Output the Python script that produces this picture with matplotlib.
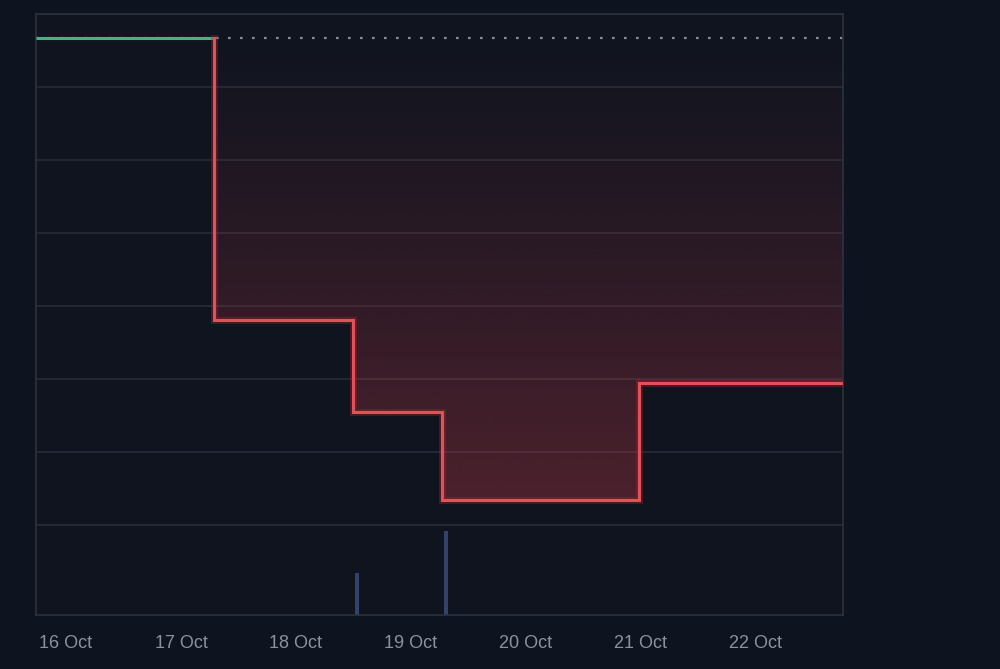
import matplotlib
matplotlib.use("Agg")
import matplotlib.pyplot as plt
import matplotlib.dates as mdates
import numpy as np
import pandas as pd
from matplotlib.patches import Polygon

# ---- data ----
step_times = ["2023-10-15 17:45", "2023-10-17 07:00", "2023-10-18 11:55",
              "2023-10-19 06:30", "2023-10-20 23:30", "2023-10-22 18:10"]
step_values = [6.67, 2.81, 1.55, 0.34, 1.95, 1.95]
baseline_value = 6.67
volume_times = ["2023-10-18 12:45", "2023-10-19 07:15"]
volume_values = [42, 84]
tick_days = ["2023-10-16", "2023-10-17", "2023-10-18", "2023-10-19",
             "2023-10-20", "2023-10-21", "2023-10-22"]
tick_labels = ["16 Oct", "17 Oct", "18 Oct", "19 Oct", "20 Oct", "21 Oct", "22 Oct"]

# ---- style ----
BG = "#0e1320"
PANEL = "#0f141f"
GRID = "#262c38"
FRAME = "#2c323e"
RED = "#e0525a"
GREEN = "#4caf7d"
TEXT = "#8b919d"
BAR = "#33426a"

t = mdates.date2num(pd.to_datetime(step_times).to_pydatetime())
vt = mdates.date2num(pd.to_datetime(volume_times).to_pydatetime())
tk = mdates.date2num(pd.to_datetime(tick_days).to_pydatetime())

fig = plt.figure(figsize=(10, 6.69), dpi=100, facecolor=BG)
H = 669.0
L, R = 36 / 1000, 843 / 1000
ax = fig.add_axes([L, 1 - 525 / H, R - L, (525 - 14) / H])
axv = fig.add_axes([L, 1 - 615 / H, R - L, (615 - 525) / H], sharex=ax)

for a in (ax, axv):
    a.set_facecolor(PANEL)
    for s in a.spines.values():
        s.set_color(FRAME)
        s.set_linewidth(1.2)
    a.tick_params(length=0)

ax.set_xlim(t[0], t[-1])
ax.set_ylim(0, 7)
ax.set_yticks(np.arange(0, 8))
ax.yaxis.grid(True, color=GRID, linewidth=1.2)
ax.set_axisbelow(True)
ax.tick_params(labelleft=False, labelbottom=False)
ax.spines["bottom"].set_color(GRID)

# step path
xs, ys = [t[0]], [step_values[0]]
for i in range(1, len(t)):
    xs += [t[i], t[i]]
    ys += [step_values[i - 1], step_values[i]]
xs = np.array(xs); ys = np.array(ys)

# gradient fill between baseline and red line
ymin = min(step_values)
grad = np.linspace(0, 1, 256).reshape(-1, 1)  # bottom -> top
rgba = np.zeros((256, 1, 4))
rc = matplotlib.colors.to_rgb("#d8404c")
rgba[..., 0], rgba[..., 1], rgba[..., 2] = rc
rgba[..., 3] = (1 - grad) * 0.30
im = ax.imshow(rgba, aspect="auto", origin="lower",
               extent=[t[0], t[-1], ymin, baseline_value], zorder=1, interpolation="bilinear")
poly_x = np.concatenate([xs[2:], [t[-1], t[1]]])
poly_y = np.concatenate([ys[2:], [baseline_value, baseline_value]])
clip = Polygon(np.column_stack([poly_x, poly_y]), closed=True, transform=ax.transData,
               facecolor="none", edgecolor="none")
ax.add_patch(clip)
im.set_clip_path(clip)

# baseline dotted
ax.plot([t[0], t[-1]], [baseline_value, baseline_value], color="#858b96",
        linestyle=(0, (1.2, 4.2)), linewidth=1.6, zorder=2)
# green segment
ax.plot(xs[:2], ys[:2], color=GREEN, linewidth=2.2, zorder=3, solid_capstyle="butt")
# red steps (glow + line)
ax.plot(xs[1:], ys[1:], color="#b0202c", linewidth=5, alpha=0.35, zorder=3,
        solid_joinstyle="miter")
ax.plot(xs[1:], ys[1:], color=RED, linewidth=2.2, zorder=4, solid_joinstyle="miter")

# volume pane
axv.set_ylim(0, 90)
axv.set_yticks([])
axv.bar(vt, volume_values, width=0.036, color=BAR, zorder=2)
axv.spines["top"].set_color(GRID)
axv.set_xticks(tk)
axv.set_xticklabels(tick_labels)
axv.tick_params(axis="x", colors=TEXT, labelsize=13, pad=14.5)
for lbl in axv.get_xticklabels():
    lbl.set_fontfamily(["Liberation Sans", "DejaVu Sans"])
    lbl.set_color(TEXT)

fig.savefig("out.png", dpi=100, facecolor=BG)
